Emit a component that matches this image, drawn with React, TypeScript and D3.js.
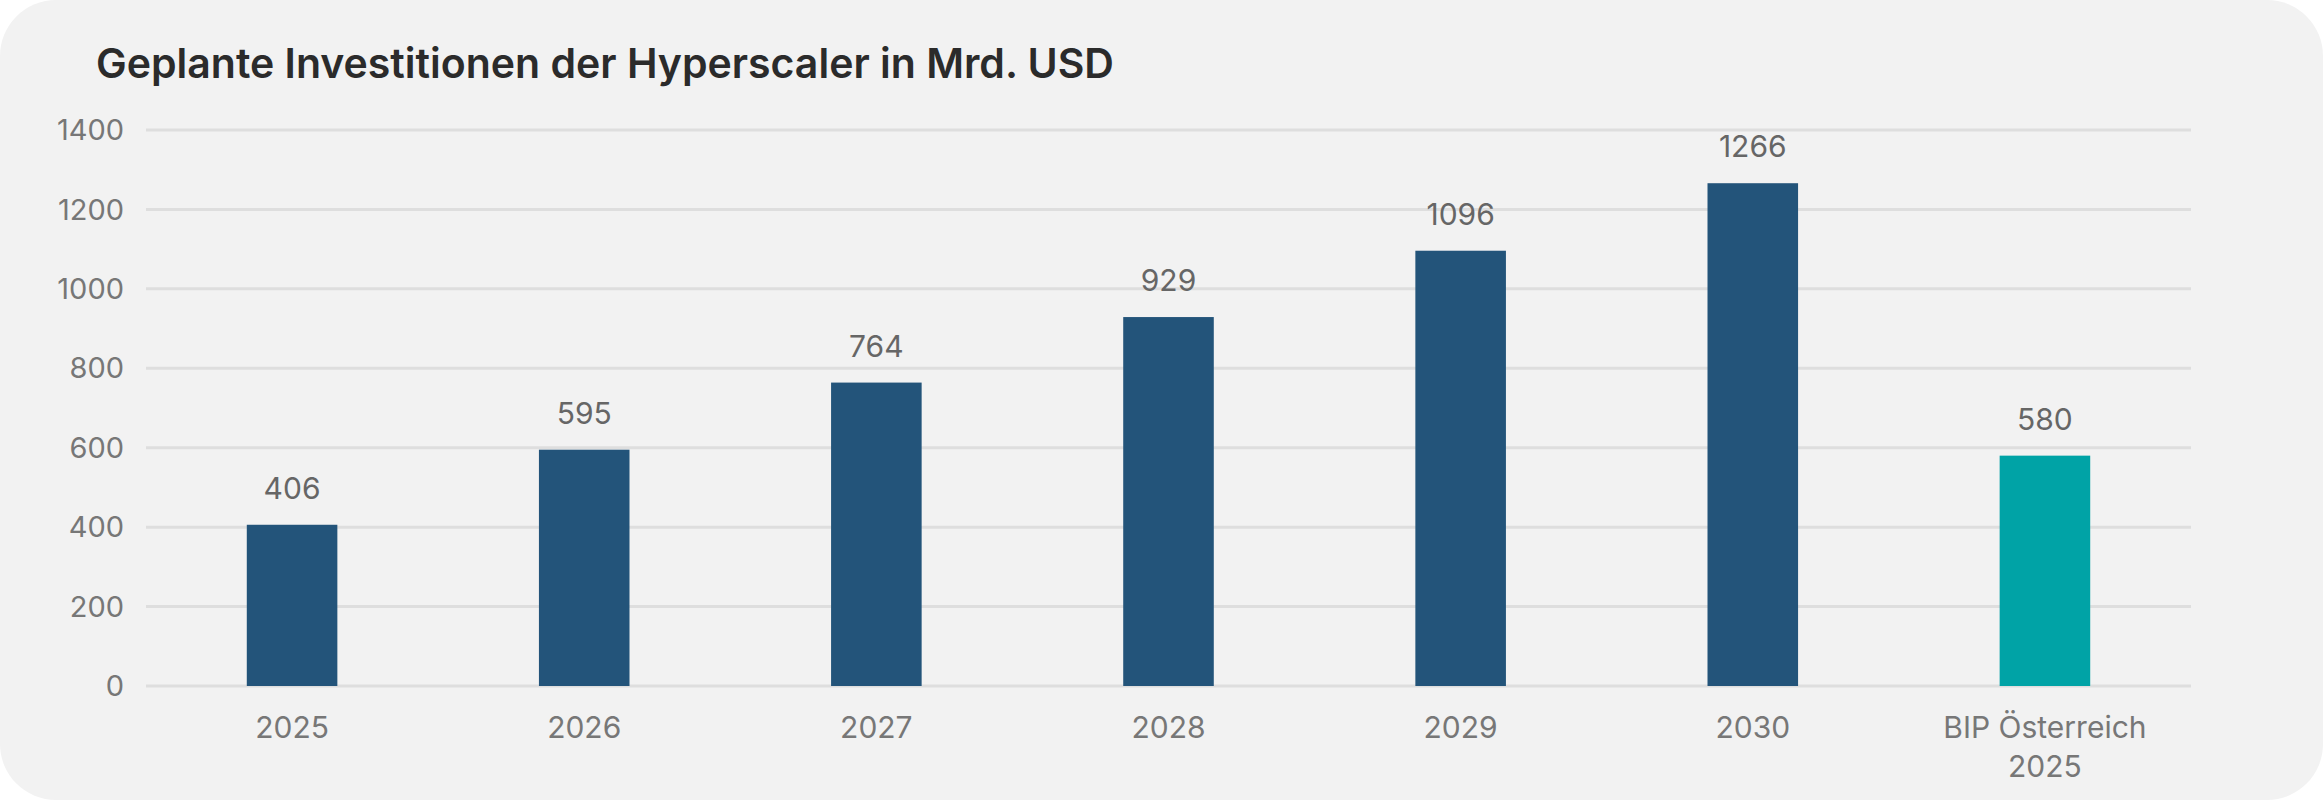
import React from "react";
import * as d3 from "d3";

const categories = ["2025", "2026", "2027", "2028", "2029", "2030", "BIP Österreich\n2025"];
const values = [406, 595, 764, 929, 1096, 1266, 580];
const colors = ["#23547a", "#23547a", "#23547a", "#23547a", "#23547a", "#23547a", "#00a3a6"];
const yTicks = [0, 200, 400, 600, 800, 1000, 1200, 1400];
const title = "Geplante Investitionen der Hyperscaler in Mrd. USD";

export default function App() {
  const W = 2323, H = 800;
  const left = 146, right = 2191, top = 130, bottom = 686;
  const x = d3.scaleBand<string>().domain(categories).range([left, right]).paddingInner(0.69).paddingOuter(0.345);
  const y = d3.scaleLinear().domain([0, 1400]).range([bottom, top]);
  const font = "Inter, 'Noto Sans', sans-serif";
  return (
    <svg width={W} height={H} style={{ position: "absolute", left: 0, top: 0, background: "#fff" }} fontFamily={font}>
      <rect x={0} y={0} width={W} height={H} rx={56} fill="#f2f2f2" />
      <text x={96} y={78} fontSize={41} fontWeight={600} fill="#2b2b2b">{title}</text>
      {yTicks.map((t) => (
        <g key={t}>
          <line x1={left} x2={right} y1={y(t)} y2={y(t)} stroke="#dedede" strokeWidth={3} />
          <text x={124} y={y(t)} dy="0.35em" textAnchor="end" fontSize={29} fill="#777">{t}</text>
        </g>
      ))}
      {categories.map((c, i) => {
        const bx = x(c)!;
        const cx = bx + x.bandwidth() / 2;
        return (
          <g key={c}>
            <rect x={bx} y={y(values[i])} width={x.bandwidth()} height={bottom - y(values[i])} fill={colors[i]} />
            <text x={cx} y={y(values[i]) - 26} textAnchor="middle" fontSize={30} fill="#666">{values[i]}</text>
            {c.split("\n").map((line, j) => (
              <text key={j} x={cx} y={738 + j * 39} textAnchor="middle" fontSize={30} fill="#777">{line}</text>
            ))}
          </g>
        );
      })}
    </svg>
  );
}
